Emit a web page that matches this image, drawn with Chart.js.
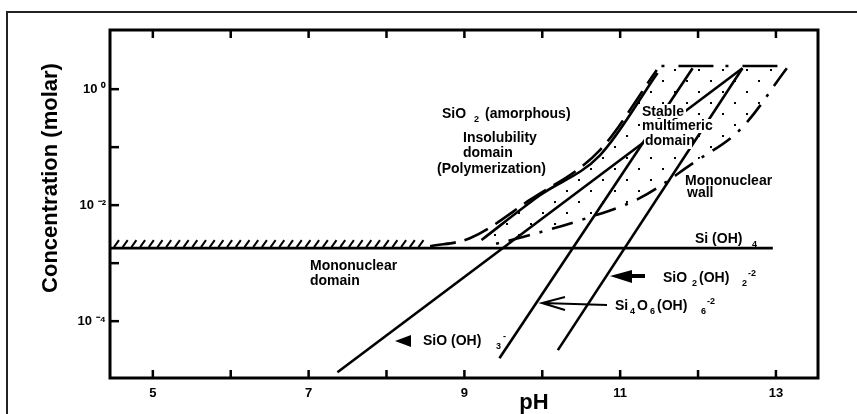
<!DOCTYPE html>
<html>
<head>
<meta charset="utf-8">
<script src="https://cdn.jsdelivr.net/npm/chart.js@4.4.0/dist/chart.umd.min.js"></script>
<style>
  html, body { margin: 0; padding: 0; background: #fff; }
  #wrap { width: 857px; height: 414px; }
</style>
</head>
<body>
<div id="wrap"><canvas id="myChart" width="857" height="414"></canvas></div>
<script>
// axis ticks
const phTicks = [5, 6, 7, 8, 9, 10, 11, 12, 13];
const phLabels = { 5: "5", 7: "7", 9: "9", 11: "11", 13: "13" };
const concTicks = [1, 0.1, 0.01, 0.001, 0.0001];
const concLabels = { 0: "10 \u2070", "-2": "10 \u207B\u00B2", "-4": "10 \u207B\u2074" };

// lines as [pH, log10(concentration)]
const siOH4 = [[4.45, -2.74], [12.96, -2.74]];
const sioOH3 = [[7.37, -4.88], [12.57, 0.36]];
const si4o6OH6 = [[9.45, -4.64], [11.93, 0.36]];
const sio2OH2 = [[10.2, -4.5], [12.57, 0.36]];
const amorphousDashed = [[8.56, -2.71], [9.07, -2.57], [9.84, -1.91], [10.74, -1.05], [11.47, 0.33]];
const amorphousSolid = [[9.22, -2.6], [9.97, -1.83], [10.74, -1.14], [11.48, 0.28]];
const topLimit = [[11.53, 0.4], [13.14, 0.4]];
const mononuclearWall = [[13.14, 0.36], [12.53, -0.71], [11.93, -1.28], [11.25, -1.88], [10.58, -2.22], [9.75, -2.55], [9.33, -2.69]];

const FONT = "'Liberation Sans', Arial, sans-serif";

const toPts = (arr) => arr.map(([x, l]) => ({ x, y: Math.pow(10, l) }));

function lineSet(arr, extra) {
  return Object.assign(
    {
      data: toPts(arr),
      showLine: true,
      borderColor: "#000",
      borderWidth: 2.6,
      pointRadius: 0,
      fill: false,
      tension: 0,
      order: 1,
    },
    extra
  );
}

const canvas = document.getElementById("myChart");
const ctx0 = canvas.getContext("2d");

// stipple for the multimeric domain
const dotCanvas = document.createElement("canvas");
dotCanvas.width = 24;
dotCanvas.height = 22;
const dctx = dotCanvas.getContext("2d");
dctx.fillStyle = "#000";
dctx.fillRect(2, 3, 2, 2);
dctx.fillRect(14, 14, 2, 2);
const stipple = ctx0.createPattern(dotCanvas, "repeat");

const stippleArea = amorphousSolid.concat(topLimit, mononuclearWall, [amorphousSolid[0]]);

//draws a label made of runs: [text, "n" | "sub" | "sup", x]
function label(ctx, runs, y, size) {
  runs.forEach(([t, kind, x]) => {
    const s = kind === "n" ? size : Math.round(size * 0.65);
    const dy = kind === "sub" ? 4 : kind === "sup" ? -6 : 0;
    ctx.font = `bold ${s}px ${FONT}`;
    ctx.fillText(t, x, y + dy);
  });
}

function knockOut(ctx, x, y, w, h) {
  ctx.save();
  ctx.fillStyle = "#fff";
  ctx.fillRect(x, y, w, h);
  ctx.restore();
}

const decorations = {
  id: "decorations",
  afterDatasetsDraw(chart) {
    const { ctx, chartArea: a, scales } = chart;
    const xs = scales.x;
    const ys = scales.y;
    ctx.save();
    ctx.strokeStyle = "#000";
    ctx.fillStyle = "#000";
    ctx.lineCap = "butt";

    // hatching on top of the Si(OH)4 line
    const yh = ys.getPixelForValue(Math.pow(10, siOH4[0][1]));
    ctx.lineWidth = 2;
    const hatchEnd = xs.getPixelForValue(8.45);
    for (let x = a.left + 4; x < hatchEnd; x += 8.7) {
      ctx.beginPath();
      ctx.moveTo(x, yh - 1);
      ctx.lineTo(x + 5, yh - 8);
      ctx.stroke();
    }

    // inner ticks
    ctx.lineWidth = 2.5;
    phTicks.forEach((v) => {
      const x = xs.getPixelForValue(v);
      ctx.beginPath();
      ctx.moveTo(x, a.bottom);
      ctx.lineTo(x, a.bottom - 8);
      ctx.moveTo(x, a.top);
      ctx.lineTo(x, a.top + 8);
      ctx.stroke();
    });
    concTicks.forEach((v) => {
      const y = ys.getPixelForValue(v);
      ctx.beginPath();
      ctx.moveTo(a.left, y);
      ctx.lineTo(a.left + 9, y);
      ctx.stroke();
    });

    // plot frame
    ctx.lineWidth = 3;
    ctx.strokeRect(a.left, a.top, a.right - a.left, a.bottom - a.top);

    // outer frame
    ctx.lineWidth = 2;
    ctx.strokeStyle = "#222";
    ctx.strokeRect(7, 12, 860, 420);
    ctx.strokeStyle = "#000";

    // arrows
    ctx.beginPath();
    ctx.moveTo(395, 341);
    ctx.lineTo(411, 335);
    ctx.lineTo(411, 347);
    ctx.closePath();
    ctx.fill();

    ctx.beginPath();
    ctx.moveTo(610, 276);
    ctx.lineTo(632, 270);
    ctx.lineTo(632, 283);
    ctx.closePath();
    ctx.fill();
    ctx.fillRect(631, 274, 14, 4);

    ctx.lineWidth = 2;
    ctx.beginPath();
    ctx.moveTo(607, 305);
    ctx.lineTo(542, 303);
    ctx.moveTo(565, 297);
    ctx.lineTo(542, 303);
    ctx.lineTo(565, 310);
    ctx.stroke();

    // labels
    ctx.textBaseline = "alphabetic";
    ctx.textAlign = "left";
    const S = 14;
    label(ctx, [["SiO", "n", 442], ["2", "sub", 474], ["(amorphous)", "n", 485]], 118, S);
    label(ctx, [["Insolubility", "n", 463]], 142, S);
    label(ctx, [["domain", "n", 463]], 157, S);
    label(ctx, [["(Polymerization)", "n", 437]], 173, S);

    knockOut(ctx, 641, 104, 45, 14);
    knockOut(ctx, 641, 119, 72, 14);
    knockOut(ctx, 644, 133, 48, 16);
    label(ctx, [["Stable", "n", 642]], 116, S);
    label(ctx, [["multimeric", "n", 642]], 130, S);
    label(ctx, [["domain", "n", 645]], 145, S);

    label(ctx, [["Mononuclear", "n", 685]], 185, S);
    label(ctx, [["wall", "n", 687]], 197, S);

    label(ctx, [["Si (OH)", "n", 695], ["4", "sub", 752]], 243, S);
    label(ctx, [["Mononuclear", "n", 310]], 270, S);
    label(ctx, [["domain", "n", 310]], 285, S);

    label(ctx, [["SiO (OH)", "n", 423], ["3", "sub", 496], ["-", "sup", 503]], 345, S);
    label(ctx, [["SiO", "n", 663], ["2", "sub", 692], ["(OH)", "n", 699], ["2", "sub", 742], ["-2", "sup", 748]], 282, S);
    label(ctx, [["Si", "n", 615], ["4", "sub", 630], ["O", "n", 637], ["6", "sub", 650], ["(OH)", "n", 657], ["6", "sub", 701], ["-2", "sup", 707]], 310, S);

    // axis titles
    ctx.font = `bold 22px ${FONT}`;
    ctx.textAlign = "center";
    ctx.fillText("pH", 534, 409);
    ctx.save();
    ctx.translate(57, 178);
    ctx.rotate(-Math.PI / 2);
    ctx.fillText("Concentration (molar)", 0, 0);
    ctx.restore();

    ctx.restore();
  },
};

const config = {
  type: "scatter",
  data: {
    datasets: [
      lineSet(stippleArea, { fill: "shape", backgroundColor: stipple, borderWidth: 0, order: 10 }),
      lineSet(siOH4),
      lineSet(sioOH3),
      lineSet(si4o6OH6),
      lineSet(sio2OH2),
      lineSet(amorphousDashed, { borderDash: [26, 9], cubicInterpolationMode: "monotone" }),
      lineSet(amorphousSolid, { cubicInterpolationMode: "monotone" }),
      lineSet(topLimit, { borderDash: [3, 14, 35, 12] }),
      lineSet(mononuclearWall, { borderDash: [22, 10, 3, 10], tension: 0.35 }),
    ],
  },
  options: {
    responsive: false,
    animation: false,
    events: [],
    layout: { padding: { left: 0, top: 30, right: 39, bottom: 0 } },
    plugins: { legend: { display: false }, tooltip: { enabled: false } },
    scales: {
      x: {
        type: "linear",
        min: 4.45,
        max: 13.54,
        grid: { display: false, drawTicks: false },
        border: { display: false },
        afterBuildTicks: (scale) => {
          scale.ticks = phTicks.map((v) => ({ value: v }));
        },
        afterFit: (scale) => {
          scale.height = 36;
        },
        ticks: {
          autoSkip: false,
          maxRotation: 0,
          padding: 8,
          color: "#000",
          font: { family: FONT, size: 13, weight: "bold" },
          callback: (v) => phLabels[v] || "",
        },
      },
      y: {
        type: "logarithmic",
        min: Math.pow(10, -4.98),
        max: Math.pow(10, 1.02),
        grid: { display: false, drawTicks: false },
        border: { display: false },
        afterBuildTicks: (scale) => {
          scale.ticks = concTicks.map((v) => ({ value: v }));
        },
        afterFit: (scale) => {
          scale.width = 110;
        },
        ticks: {
          autoSkip: false,
          padding: 4,
          color: "#000",
          font: { family: FONT, size: 13, weight: "bold" },
          callback: (v) => concLabels[Math.round(Math.log10(v))] || "",
        },
      },
    },
  },
  plugins: [decorations],
};

let myChart = new Chart(canvas, config);
</script>
</body>
</html>
